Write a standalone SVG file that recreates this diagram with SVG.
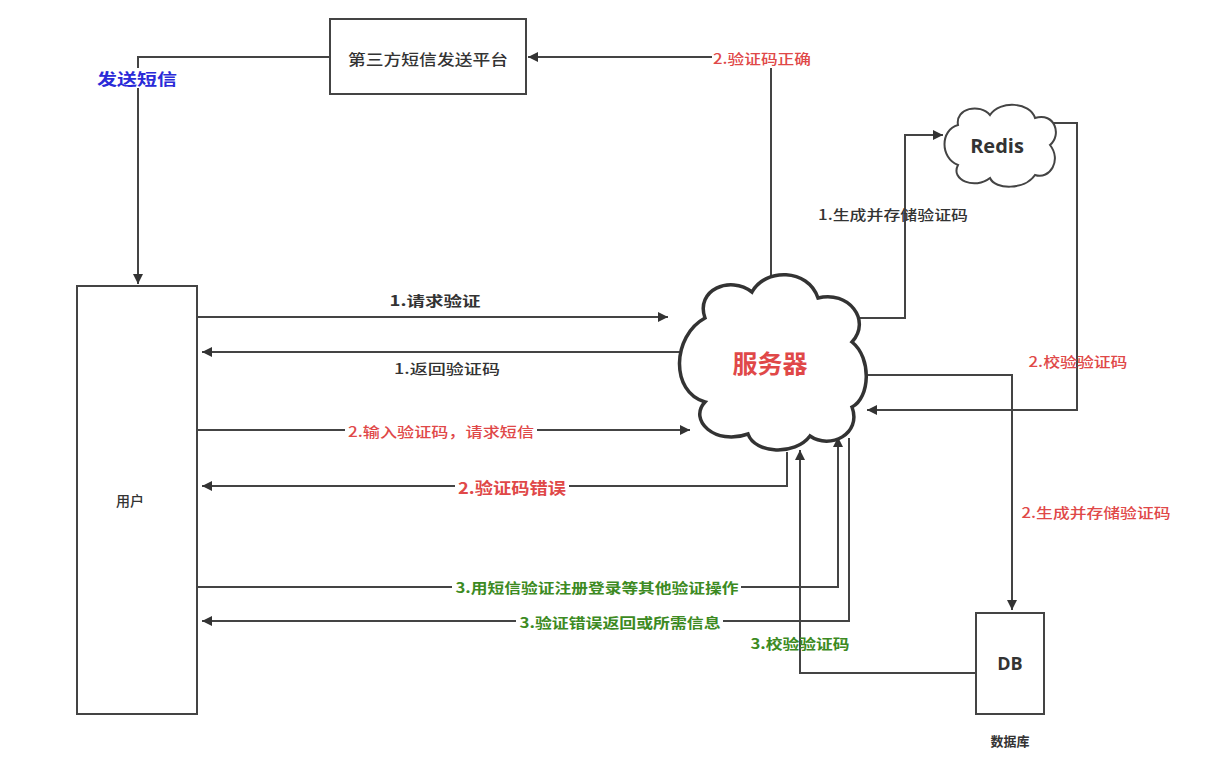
<svg xmlns="http://www.w3.org/2000/svg" width="1221" height="782" viewBox="0 0 1221 782">
<defs>
<marker id="arrL" viewBox="0 0 10 10" refX="10" refY="5" markerWidth="14" markerHeight="10" markerUnits="userSpaceOnUse" orient="auto">
<path d="M0,0 L10,5 L0,10 Z" fill="#333"/>
</marker>
</defs>
<style>
.ln{fill:none;stroke:#444;stroke-width:2}
.box{fill:#fff;stroke:#444;stroke-width:2}
.cloud{fill:#fff;stroke:#333;stroke-width:3.5}
.cloud2{fill:#fff;stroke:#444;stroke-width:2}
text{font-family:"Noto Sans CJK SC","Liberation Sans",sans-serif;text-anchor:middle;dominant-baseline:central}
.t{font-size:14px;fill:#333;font-weight:500}
.red{font-size:14px;fill:#e04848;font-weight:500}
.grn{font-size:14px;fill:#3c8a22;font-weight:bold}
.bg{fill:#fff}
</style>
<rect width="1221" height="782" fill="#fff"/>
<g id="connectors">
<polyline class="ln" points="330,57 138,57 138,284" marker-end="url(#arrL)"/>
<polyline class="ln" points="771,276 771,57 528,57" marker-end="url(#arrL)"/>
<polyline class="ln" points="860,318 905,318 905,135 943,135" marker-end="url(#arrL)"/>
<polyline class="ln" points="1052,123 1077,123 1077,410 867,410" marker-end="url(#arrL)"/>
<polyline class="ln" points="862,375 1012,375 1012,610" marker-end="url(#arrL)"/>
<line class="ln" x1="197" y1="317" x2="668" y2="317" marker-end="url(#arrL)"/>
<line class="ln" x1="680" y1="352" x2="202" y2="352" marker-end="url(#arrL)"/>
<line class="ln" x1="197" y1="430" x2="690" y2="430" marker-end="url(#arrL)"/>
<polyline class="ln" points="787,452 787,486 202,486" marker-end="url(#arrL)"/>
<polyline class="ln" points="197,587 838,587 838,437" marker-end="url(#arrL)"/>
<polyline class="ln" points="849,438 849,621 202,621" marker-end="url(#arrL)"/>
<polyline class="ln" points="976,673 800,673 800,450" marker-end="url(#arrL)"/>
</g>
<g id="labels">
<rect class="bg" x="94" y="68" width="86" height="20"/>
<text x="137" y="78" style="font-size:16px;fill:#2a2ad8;font-weight:bold" textLength="80" lengthAdjust="spacingAndGlyphs">发送短信</text>
<rect class="bg" x="712" y="48" width="102" height="20"/>
<text class="red" x="762" y="58" textLength="98" lengthAdjust="spacingAndGlyphs">2.验证码正确</text>
<text class="t" x="893" y="214" textLength="150" lengthAdjust="spacingAndGlyphs">1.生成并存储验证码</text>
<text class="red" x="1078" y="361" textLength="99" lengthAdjust="spacingAndGlyphs">2.校验验证码</text>
<text class="red" x="1096" y="512" textLength="149" lengthAdjust="spacingAndGlyphs">2.生成并存储验证码</text>
<text class="t" x="435" y="300" style="font-weight:bold" textLength="91" lengthAdjust="spacingAndGlyphs">1.请求验证</text>
<text class="t" x="447" y="368" textLength="106" lengthAdjust="spacingAndGlyphs">1.返回验证码</text>
<rect class="bg" x="345" y="421" width="192" height="19"/>
<text class="red" x="441" y="431" textLength="186" lengthAdjust="spacingAndGlyphs">2.输入验证码，请求短信</text>
<rect class="bg" x="455" y="476" width="114" height="21"/>
<text class="red" x="512" y="487" style="font-size:16px;font-weight:bold" textLength="108" lengthAdjust="spacingAndGlyphs">2.验证码错误</text>
<rect class="bg" x="452" y="578" width="289" height="19"/>
<text class="grn" x="597" y="587" textLength="283" lengthAdjust="spacingAndGlyphs">3.用短信验证注册登录等其他验证操作</text>
<rect class="bg" x="516" y="612" width="207" height="19"/>
<text class="grn" x="620" y="622" textLength="201" lengthAdjust="spacingAndGlyphs">3.验证错误返回或所需信息</text>
<text class="grn" x="800" y="643" textLength="99" lengthAdjust="spacingAndGlyphs">3.校验验证码</text>
</g>
<g id="sms-platform">
<rect class="box" x="330" y="19" width="196" height="75"/>
<text class="t" x="428" y="58" style="font-size:15px" textLength="160" lengthAdjust="spacingAndGlyphs">第三方短信发送平台</text>
</g>
<g id="user">
<rect class="box" x="77" y="286" width="120" height="428"/>
<text class="t" x="130" y="500">用户</text>
</g>
<g id="server">
<path class="cloud" d="M705 318 C695 290 730 275 752 292 C765 268 808 268 818 298 C848 290 872 320 852 342 C872 358 870 398 852 407 C862 434 830 450 810 436 C795 456 755 454 748 434 C715 446 688 420 705 402 C670 392 672 336 705 318 Z"/>
<text x="770" y="362" style="font-size:25px;fill:#e04848;font-weight:bold">服务器</text>
</g>
<g id="redis">
<path class="cloud2" d="M958 125 C955 108 980 103 990 115 C1000 100 1030 102 1035 118 C1055 112 1062 135 1050 145 C1062 160 1050 180 1035 175 C1025 190 995 190 990 178 C975 190 950 180 958 165 C940 158 940 130 958 125 Z"/>
<text x="997" y="145" style="font-size:20px;fill:#333;font-weight:bold;font-family:'Open Sans','Liberation Sans',sans-serif">Redis</text>
</g>
<g id="db">
<rect class="box" x="976" y="613" width="68" height="101"/>
<text x="1010" y="663" style="font-size:18px;fill:#333;font-weight:bold;font-family:'Open Sans','Liberation Sans',sans-serif">DB</text>
<text class="t" x="1010" y="740" style="font-size:13px;font-weight:bold">数据库</text>
</g>
</svg>
